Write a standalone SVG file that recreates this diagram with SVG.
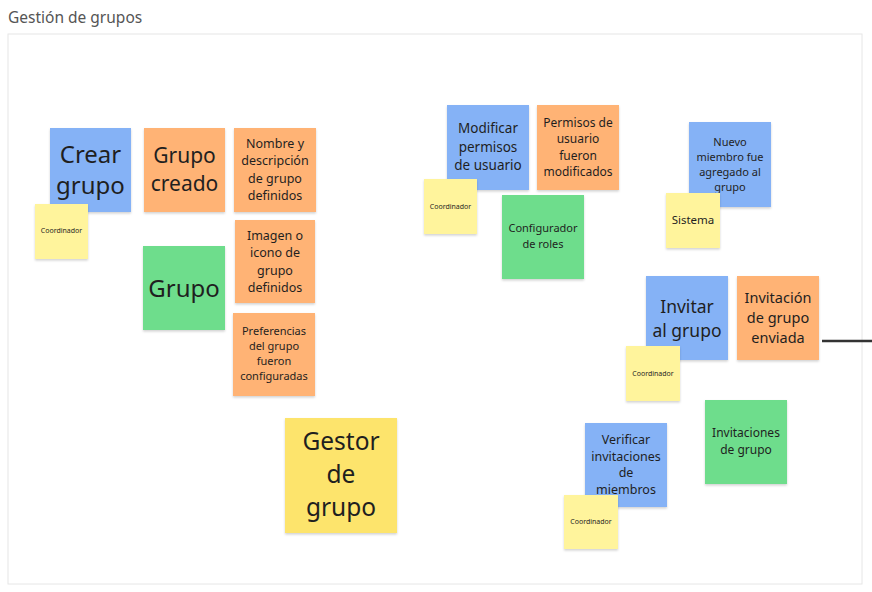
<svg xmlns="http://www.w3.org/2000/svg" width="872" height="592" viewBox="0 0 872 592">
<defs>
<style>
text{font-family:"Noto Sans","Open Sans","DejaVu Sans",sans-serif;fill:#1f1f1f;text-anchor:middle}
.blue{fill:#85b2f6}
.orange{fill:#ffb374}
.green{fill:#6edd8c}
.yellow{fill:#fff49c}
.gold{fill:#fde46c}
.note{filter:url(#sh)}
</style>
<filter id="sh" x="-10%" y="-10%" width="125%" height="125%">
<feDropShadow dx="0" dy="1.5" stdDeviation="1.2" flood-color="#000" flood-opacity="0.18"/>
</filter>
</defs>
<rect width="872" height="592" fill="#ffffff"/>
<text x="8" y="23" style="text-anchor:start;font-size:15.5px;fill:#555">Gestión de grupos</text>
<rect x="8" y="34" width="854" height="550" fill="#ffffff" stroke="#e6e6e6" stroke-width="1"/>

<g id="connectors">
<line x1="822" y1="341" x2="872" y2="341" stroke="#333333" stroke-width="2.5"/>
</g>

<g id="crear-grupo">
<rect class="note blue" x="50" y="128" width="81" height="84"/>
<text font-size="24" x="90.5" y="163">Crear</text>
<text font-size="24" x="90.5" y="194">grupo</text>
</g>
<g id="coord-1">
<rect class="note yellow" x="35" y="204" width="53" height="55"/>
<text font-size="7" x="61.5" y="233">Coordinador</text>
</g>
<g id="grupo-creado">
<rect class="note orange" x="144" y="128" width="81" height="84"/>
<text font-size="21" x="184.5" y="163">Grupo</text>
<text font-size="21" x="184.5" y="191">creado</text>
</g>
<g id="nombre-descripcion">
<rect class="note orange" x="234" y="128" width="82" height="84"/>
<text font-size="12.5" x="275" y="148">Nombre y</text>
<text font-size="12.5" x="275" y="165">descripción</text>
<text font-size="12.5" x="275" y="183">de grupo</text>
<text font-size="12.5" x="275" y="200">definidos</text>
</g>
<g id="imagen-icono">
<rect class="note orange" x="235" y="220" width="80" height="83"/>
<text font-size="12.5" x="275" y="240">Imagen o</text>
<text font-size="12.5" x="275" y="257">icono de</text>
<text font-size="12.5" x="275" y="275">grupo</text>
<text font-size="12.5" x="275" y="292">definidos</text>
</g>
<g id="grupo">
<rect class="note green" x="143" y="246" width="82" height="84"/>
<text font-size="24" x="184" y="297">Grupo</text>
</g>
<g id="preferencias">
<rect class="note orange" x="233" y="313" width="82" height="83"/>
<text font-size="11" x="274" y="335">Preferencias</text>
<text font-size="11" x="274" y="350">del grupo</text>
<text font-size="11" x="274" y="365">fueron</text>
<text font-size="11" x="274" y="380">configuradas</text>
</g>
<g id="gestor-de-grupo">
<rect class="note gold" x="285" y="418" width="112" height="115"/>
<text font-size="24.5" x="341" y="450">Gestor</text>
<text font-size="24.5" x="341" y="483">de</text>
<text font-size="24.5" x="341" y="516">grupo</text>
</g>

<g id="modificar-permisos">
<rect class="note blue" x="447" y="105" width="82" height="85"/>
<text font-size="13.5" x="488" y="133">Modificar</text>
<text font-size="13.5" x="488" y="152">permisos</text>
<text font-size="13.5" x="488" y="170">de usuario</text>
</g>
<g id="permisos-modificados">
<rect class="note orange" x="537" y="105" width="82" height="85"/>
<text font-size="12" x="578" y="127">Permisos de</text>
<text font-size="12" x="578" y="143">usuario</text>
<text font-size="12" x="578" y="160">fueron</text>
<text font-size="12" x="578" y="176">modificados</text>
</g>
<g id="coord-2">
<rect class="note yellow" x="424" y="179" width="53" height="55"/>
<text font-size="7" x="450.5" y="209">Coordinador</text>
</g>
<g id="configurador-roles">
<rect class="note green" x="502" y="195" width="82" height="84"/>
<text font-size="11" x="543" y="232">Configurador</text>
<text font-size="11" x="543" y="248">de roles</text>
</g>

<g id="nuevo-miembro">
<rect class="note blue" x="689" y="122" width="82" height="85"/>
<text font-size="11" x="730" y="146">Nuevo</text>
<text font-size="11" x="730" y="161">miembro fue</text>
<text font-size="11" x="730" y="176">agregado al</text>
<text font-size="11" x="730" y="191">grupo</text>
</g>
<g id="sistema">
<rect class="note yellow" x="666" y="193" width="54" height="55"/>
<text font-size="11.5" x="693" y="224">Sistema</text>
</g>
<g id="invitar-grupo">
<rect class="note blue" x="646" y="276" width="82" height="84"/>
<text font-size="17.5" x="687" y="313">Invitar</text>
<text font-size="17.5" x="687" y="337">al grupo</text>
</g>
<g id="invitacion-enviada">
<rect class="note orange" x="737" y="276" width="82" height="84"/>
<text font-size="14.5" x="778" y="303">Invitación</text>
<text font-size="14.5" x="778" y="323">de grupo</text>
<text font-size="14.5" x="778" y="343">enviada</text>
</g>
<g id="coord-3">
<rect class="note yellow" x="626" y="346" width="54" height="55"/>
<text font-size="7" x="653" y="376">Coordinador</text>
</g>
<g id="invitaciones-grupo">
<rect class="note green" x="705" y="400" width="82" height="84"/>
<text font-size="12" x="746" y="437">Invitaciones</text>
<text font-size="12" x="746" y="454">de grupo</text>
</g>
<g id="verificar-invitaciones">
<rect class="note blue" x="585" y="423" width="82" height="84"/>
<text font-size="12.5" x="626" y="444">Verificar</text>
<text font-size="12.5" x="626" y="461">invitaciones</text>
<text font-size="12.5" x="626" y="477">de</text>
<text font-size="12.5" x="626" y="494">miembros</text>
</g>
<g id="coord-4">
<rect class="note yellow" x="564" y="495" width="54" height="54"/>
<text font-size="7" x="591" y="524">Coordinador</text>
</g>
</svg>
